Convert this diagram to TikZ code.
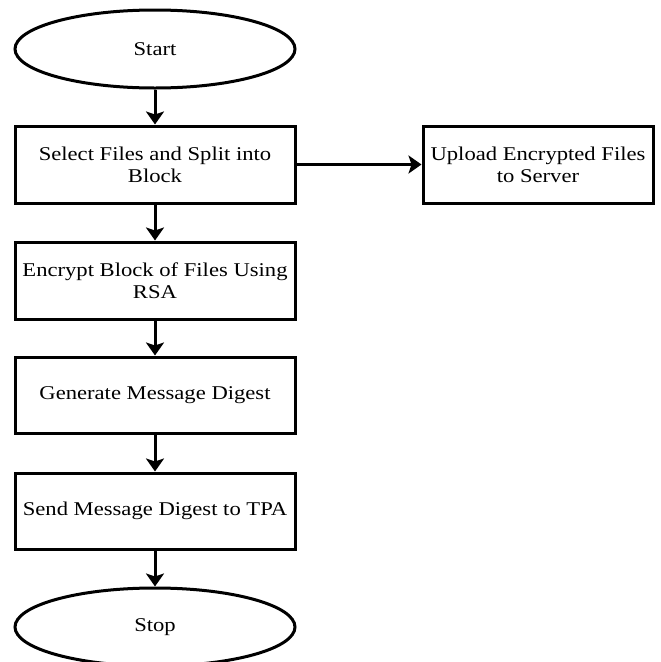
\documentclass[tikz,border=0pt]{standalone}
\usepackage{fontspec}
\setmainfont{Liberation Serif}[FakeStretch=1.16]
\usetikzlibrary{shapes.geometric,arrows.meta}

\begin{document}
\begin{tikzpicture}[x=1pt,y=-1pt,
  every node/.style={font=\fontsize{19.5}{22}\selectfont, align=center, line width=3pt, draw=black, inner sep=0pt},
  terminal/.style={ellipse, minimum width=280pt, minimum height=78pt},
  stepbox/.style={rectangle, minimum width=280pt, minimum height=77pt},
  flow/.style={line width=3pt, -{Stealth[length=13pt,width=18pt,inset=3pt]}}
]
\useasboundingbox (0,0) rectangle (661,662);
\clip (0,0) rectangle (661,662);

\node[terminal] (start) at (155,49) {Start};
\node[stepbox] (select) at (155,164.5) {Select Files and Split into\\Block};
\node[stepbox, minimum width=230pt] (upload) at (538,164.5) {Upload Encrypted Files\\to Server};
\node[stepbox] (encrypt) at (155,280.5) {Encrypt Block of Files Using\\RSA};
\node[stepbox, minimum height=76pt] (digest) at (155,395) {Generate Message Digest};
\node[stepbox, minimum height=76pt] (send) at (155,511) {Send Message Digest to TPA};
\node[terminal] (stop) at (155,627) {Stop};

\draw[flow] (start) -- (select);
\draw[flow] (select) -- (upload);
\draw[flow] (select) -- (encrypt);
\draw[flow] (encrypt) -- (digest);
\draw[flow] (digest) -- (send);
\draw[flow] (send) -- (stop);
\end{tikzpicture}
\end{document}
